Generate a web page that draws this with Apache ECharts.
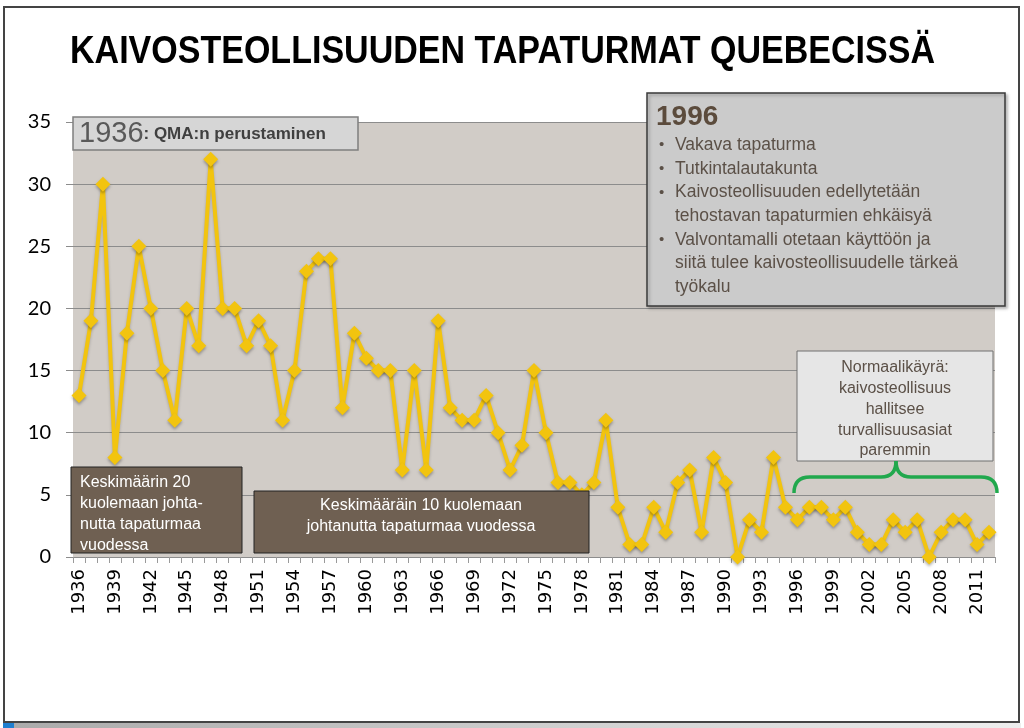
<!DOCTYPE html>
<html>
<head>
<meta charset="utf-8">
<script src="https://cdn.jsdelivr.net/npm/echarts@6/dist/echarts.min.js"></script>
<style>
html,body{margin:0;padding:0;background:#fff;}
#chart{width:1024px;height:728px;}
</style>
</head>
<body>
<div id="chart"></div>
<script>
var years = ['1936','1937','1938','1939','1940','1941','1942','1943','1944','1945','1946','1947','1948','1949','1950','1951','1952','1953','1954','1955','1956','1957','1958','1959','1960','1961','1962','1963','1964','1965','1966','1967','1968','1969','1970','1971','1972','1973','1974','1975','1976','1977','1978','1979','1980','1981','1982','1983','1984','1985','1986','1987','1988','1989','1990','1991','1992','1993','1994','1995','1996','1997','1998','1999','2000','2001','2002','2003','2004','2005','2006','2007','2008','2009','2010','2011','2012'];
var accidents = [13,19,30,8,18,25,20,15,11,20,17,32,20,20,17,19,17,11,15,23,24,24,12,18,16,15,15,7,15,7,19,12,11,11,13,10,7,9,15,10,6,6,5,6,11,4,1,1,4,2,6,7,2,8,6,0,3,2,8,4,3,4,4,3,4,2,1,1,3,2,3,0,2,3,3,1,2];
var titleText = 'KAIVOSTEOLLISUUDEN TAPATURMAT QUEBECISSÄ';
var box1996Title = '1996';
var box1996Lines = [
  {b:true, t:'Vakava tapaturma'},
  {b:true, t:'Tutkintalautakunta'},
  {b:true, t:'Kaivosteollisuuden edellytetään'},
  {b:false, t:'tehostavan tapaturmien ehkäisyä'},
  {b:true, t:'Valvontamalli otetaan käyttöön ja'},
  {b:false, t:'siitä tulee kaivosteollisuudelle tärkeä'},
  {b:false, t:'työkalu'}
];
var normalLines = ['Normaalikäyrä:','kaivosteollisuus','hallitsee','turvallisuusasiat','paremmin'];
var avg20Lines = ['Keskimäärin 20','kuolemaan johta-','nutta tapaturmaa','vuodessa'];
var avg10Lines = ['Keskimääräin 10 kuolemaan','johtanutta tapaturmaa vuodessa'];

var chart = echarts.init(document.getElementById('chart'));

var titleFont = 'bold 39px "Liberation Sans", sans-serif';
var mctx = document.createElement('canvas').getContext('2d');
mctx.font = titleFont;
var titleW = mctx.measureText(titleText).width;
var titleScale = 865 / titleW;

var graphics = [];
// slide frame
graphics.push({type:'rect', z:1, shape:{x:4,y:7,width:1015,height:715}, style:{fill:null, stroke:'#444', lineWidth:2}});
graphics.push({type:'rect', z:1, shape:{x:3,y:723,width:1018,height:5}, style:{fill:{type:'linear',x:0,y:0,x2:1,y2:0,colorStops:[{offset:0,color:'#aaaaaa'},{offset:1,color:'#eeeeee'}]}}});
graphics.push({type:'rect', z:2, shape:{x:3,y:723,width:11,height:5}, style:{fill:'#1f7fd0'}});
// title
graphics.push({type:'text', z:100, x:70, y:52, scaleX:titleScale, originX:0, style:{text:titleText, font:titleFont, fill:'#000', verticalAlign:'middle'}});

// 1936 box
graphics.push({type:'rect', z:100, shape:{x:73,y:117,width:285,height:33}, style:{fill:'#d6d6d6', stroke:'#7f7f7f', lineWidth:1.5}});
graphics.push({type:'text', z:101, x:79, y:134, style:{text:'{a|1936}{b|: QMA:n perustaminen}', verticalAlign:'middle', rich:{a:{font:'29px "Liberation Sans", sans-serif', fill:'#595959'}, b:{font:'bold 17px "Liberation Sans", sans-serif', fill:'#404040'}}}});

// 1996 box
graphics.push({type:'rect', z:100, shape:{x:647,y:93,width:358,height:213}, style:{fill:'#cbcbcb', stroke:'#3a3a3a', lineWidth:1.5, shadowBlur:3, shadowColor:'rgba(0,0,0,0.25)', shadowOffsetX:2, shadowOffsetY:2}});
graphics.push({type:'text', z:101, x:656, y:117, style:{text:box1996Title, verticalAlign:'middle', font:'bold 28px "Liberation Sans", sans-serif', fill:'#5b4b3c'}});
box1996Lines.forEach(function(l, i){
  var y = 145 + i*23.7;
  if (l.b) graphics.push({type:'text', z:101, x:659, y:y, style:{text:'•', verticalAlign:'middle', font:'15px "Liberation Sans", sans-serif', fill:'#5b5047'}});
  graphics.push({type:'text', z:101, x:675, y:y, style:{text:l.t, verticalAlign:'middle', font:'17.5px "Liberation Sans", sans-serif', fill:'#5b5047'}});
});

// Normaalikayra box
graphics.push({type:'rect', z:100, shape:{x:797,y:351,width:196,height:110}, style:{fill:'#e6e6e6', stroke:'#707070', lineWidth:1}});
normalLines.forEach(function(t, i){
  graphics.push({type:'text', z:101, x:895, y:368 + i*20.7, style:{text:t, align:'center', verticalAlign:'middle', font:'16px "Liberation Sans", sans-serif', fill:'#5b5047'}});
});
// green brace
var braceStyle = {fill:null, stroke:'#21a84d', lineWidth:3.5};
graphics.push({type:'bezierCurve', z:100, shape:{x1:794,y1:493,x2:810,y2:477,cpx1:794,cpy1:477}, style:braceStyle});
graphics.push({type:'line', z:100, shape:{x1:810,y1:477,x2:881,y2:477}, style:braceStyle});
graphics.push({type:'bezierCurve', z:100, shape:{x1:881,y1:477,x2:896,y2:461,cpx1:896,cpy1:477}, style:braceStyle});
graphics.push({type:'bezierCurve', z:100, shape:{x1:896,y1:461,x2:911,y2:477,cpx1:896,cpy1:477}, style:braceStyle});
graphics.push({type:'line', z:100, shape:{x1:911,y1:477,x2:981,y2:477}, style:braceStyle});
graphics.push({type:'bezierCurve', z:100, shape:{x1:981,y1:477,x2:997,y2:493,cpx1:997,cpy1:477}, style:braceStyle});

// avg 20 box
graphics.push({type:'rect', z:100, shape:{x:71,y:467,width:171,height:86}, style:{fill:'#6f6052', stroke:'#222', lineWidth:1}});
avg20Lines.forEach(function(t, i){
  graphics.push({type:'text', z:101, x:80, y:483 + i*21, style:{text:t, verticalAlign:'middle', font:'16px "Liberation Sans", sans-serif', fill:'#fff'}});
});
// avg 10 box
graphics.push({type:'rect', z:100, shape:{x:254,y:491,width:335,height:62}, style:{fill:'#6f6052', stroke:'#222', lineWidth:1}});
avg10Lines.forEach(function(t, i){
  graphics.push({type:'text', z:101, x:421, y:506 + i*21, style:{text:t, align:'center', verticalAlign:'middle', font:'16px "Liberation Sans", sans-serif', fill:'#fff'}});
});

chart.setOption({
  animation:false,
  backgroundColor:'#fff',
  grid:{left:73, right:29, top:122, bottom:171, show:true, backgroundColor:'#d1ccc7', borderWidth:0},
  xAxis:{
    type:'category', data:years, boundaryGap:true,
    axisLine:{show:true, lineStyle:{color:'#8c8c8c', width:1}},
    axisTick:{show:true, interval:0, length:6, lineStyle:{color:'#9a9a9a'}},
    axisLabel:{interval:2, rotate:90, margin:12, fontFamily:'DejaVu Sans', fontSize:18, color:'#000'},
    splitLine:{show:false}
  },
  yAxis:{
    type:'value', min:0, max:35, interval:5,
    axisLine:{show:false},
    axisTick:{show:true, length:7, lineStyle:{color:'#8c8c8c'}},
    axisLabel:{margin:22, fontFamily:'Lato', fontSize:20, color:'#000'},
    splitLine:{show:true, lineStyle:{color:'#8c8c8c', width:1.2}}
  },
  series:[{
    type:'line', data:accidents, symbol:'diamond', symbolSize:15, showAllSymbol:true,
    lineStyle:{color:'#f2c40f', width:4, shadowBlur:3, shadowColor:'rgba(0,0,0,0.2)', shadowOffsetY:2},
    itemStyle:{color:'#f2c40f', shadowBlur:3, shadowColor:'rgba(0,0,0,0.3)', shadowOffsetY:2},
    z:3
  }],
  graphic:graphics
});
</script>
</body>
</html>
